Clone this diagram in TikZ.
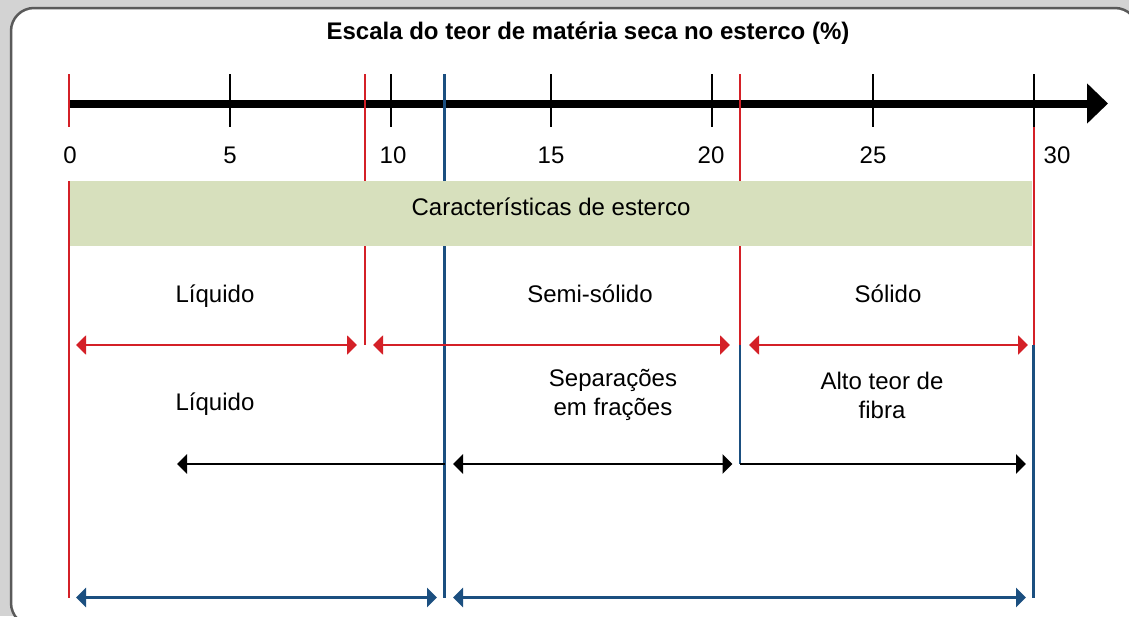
\documentclass[tikz,border=0pt]{standalone}
\usepackage{fontspec}
\setmainfont{Liberation Sans}
\usetikzlibrary{arrows.meta}
\definecolor{cred}{HTML}{D42027}
\definecolor{cblue}{HTML}{1B4F80}
\definecolor{cgreen}{HTML}{D7E0BD}
\definecolor{cbg}{HTML}{D3D3D3}
\definecolor{cframe}{HTML}{5A5A5A}
\begin{document}
\begin{tikzpicture}[x=1pt,y=-1pt,
  lbl/.style={font=\fontsize{24}{29}\selectfont, inner sep=0pt, align=center},
  redv/.style={draw=cred, line width=2pt},
  bluev/.style={draw=cblue, line width=2.2pt},
  tickv/.style={draw=black, line width=2pt},
  redrow/.style={draw=cred, line width=2pt, {Triangle[length=10pt,width=19pt]}-{Triangle[length=10pt,width=19pt]}},
  blackrow/.style={draw=black, line width=2.4pt, {Triangle[length=10pt,width=19pt]}-{Triangle[length=10pt,width=19pt]}},
  bluerow/.style={draw=cblue, line width=2.4pt, {Triangle[length=10pt,width=19pt]}-{Triangle[length=10pt,width=19pt]}}
]
\useasboundingbox (0,0) rectangle (1129,616);
\fill[cbg] (0,0) rectangle (1129,616);
\draw[cframe, fill=white, line width=2.5pt, rounded corners=23pt] (11,8) rectangle (1138,626);

% title
\node[lbl, font=\fontsize{24}{29}\selectfont\bfseries, anchor=base] (title) at (588,39.5) {Escala do teor de matéria seca no esterco (\%)};

% axis
\coordinate (ax0) at (69,103.5);
\coordinate (ax1) at (1108,103.5);
\draw[line width=8pt, -{Triangle[length=21pt,width=39pt]}] (ax0) -- (ax1);

% ticks
\foreach \x/\n in {230/t5, 391/t10, 551/t15, 712/t20, 873/t25} {
  \coordinate (\n a) at (\x,74);
  \coordinate (\n b) at (\x,127);
  \draw[tickv] (\n a) -- (\n b);
}
\coordinate (t30a) at (1033.5,74);
\coordinate (t30b) at (1033.5,127);
\draw[tickv] (t30a) -- (t30b);

% vertical markers
\coordinate (v0t) at (69,74);     \coordinate (v0m) at (69,127);
\coordinate (v0n) at (69,181);    \coordinate (v0b) at (69,597.5);
\coordinate (vat) at (364.5,74);  \coordinate (vam) at (364.5,345);
\coordinate (vbt) at (444.5,74);  \coordinate (vbb) at (444.5,597.5);
\coordinate (vct) at (740,74);    \coordinate (vcm) at (740,345); \coordinate (vcb) at (740,464);
\coordinate (vdm) at (1033.5,345); \coordinate (vdb) at (1033.5,597.5);
\draw[redv] (v0t) -- (v0m);
\draw[redv] (v0n) -- (v0b);
\draw[redv] (vat) -- (vam);
\draw[bluev] (vbt) -- (vbb);
\draw[redv] (vct) -- (vcm);
\draw[bluev] (vcm) -- (vcb);
\draw[redv] (t30b) -- (vdm);
\draw[bluev] (vdm) -- (vdb);

% numbers
\node[lbl, anchor=base] (n0) at (70,163) {0};
\node[lbl, anchor=base] (n5) at (230,163) {5};
\node[lbl, anchor=base] (n10) at (393,163) {10};
\node[lbl, anchor=base] (n15) at (551,163) {15};
\node[lbl, anchor=base] (n20) at (711,163) {20};
\node[lbl, anchor=base] (n25) at (873,163) {25};
\node[lbl, anchor=base] (n30) at (1057,163) {30};

% green band
\path[fill=cgreen] (70,181) rectangle (1032.4,246);
\node[lbl, anchor=base] (band) at (551,215.5) {Características de esterco};

% row 1 (red)
\coordinate (r0) at (69,345);
\coordinate (r1) at (364.5,345);
\coordinate (r2) at (740,345);
\coordinate (r3) at (1033.5,345);
\draw[redrow, shorten <=7pt, shorten >=7.5pt] (r0) -- (r1);
\draw[redrow, shorten <=8.5pt, shorten >=10pt] (r1) -- (r2);
\draw[redrow, shorten <=9pt, shorten >=5.5pt] (r2) -- (r3);
\node[lbl, anchor=base] (l1) at (215,302.5) {Líquido};
\node[lbl, anchor=base] (l2) at (590,302.5) {Semi-sólido};
\node[lbl, anchor=base] (l3) at (888,302.5) {Sólido};

% row 2 (black)
\coordinate (k0) at (177,464);
\coordinate (k1) at (444.5,464);
\coordinate (k2) at (740,464);
\coordinate (k3) at (1033.5,464);
\draw[draw=black, line width=2.4pt, -{Triangle[length=10pt,width=19pt]}] (k1) -- (k0);
\draw[blackrow, shorten <=8.5pt, shorten >=7.5pt] (k1) -- (k2);
\draw[draw=black, line width=2.4pt, -{Triangle[length=10pt,width=19pt]}, shorten >=7.5pt] (k2) -- (k3);
\node[lbl, anchor=base] (m1) at (215,410.5) {Líquido};
\node[lbl] (m2) at (613,395) {Separações\\em frações};
\node[lbl] (m3) at (882,395) {Alto teor de\\fibra};

% row 3 (blue)
\coordinate (b0) at (69,597.5);
\coordinate (b1) at (444.5,597.5);
\coordinate (b2) at (1033.5,597.5);
\draw[bluerow, shorten <=7pt, shorten >=7.5pt] (b0) -- (b1);
\draw[bluerow, shorten <=8.5pt, shorten >=7.5pt] (b1) -- (b2);
\end{tikzpicture}
\end{document}
